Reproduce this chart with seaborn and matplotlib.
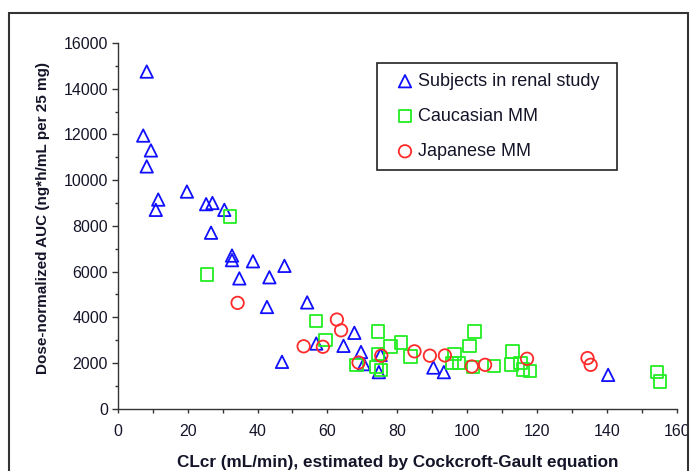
import matplotlib
matplotlib.use("Agg")
import matplotlib.pyplot as plt
from matplotlib.patches import Rectangle
from matplotlib.ticker import MultipleLocator
import seaborn as sns
import pandas as pd

# ---- data ----
renal_x = [8.3, 7.3, 9.5, 8.3, 19.8, 11.6, 10.9, 25.3, 27.1, 30.5, 26.7, 32.7, 32.7,
           38.7, 47.7, 34.8, 43.4, 42.7, 54.2, 47.0, 56.8, 64.6, 67.7, 69.6, 70.4,
           75.2, 74.7, 90.3, 93.3, 140.3]
renal_y = [14750, 11950, 11300, 10600, 9500, 9150, 8700, 8950, 9000, 8700, 7700, 6700, 6500,
           6450, 6250, 5700, 5750, 4450, 4650, 2050, 2850, 2750, 3320, 2480, 1950,
           2350, 1600, 1800, 1600, 1480]

cauc_x = [32.1, 25.5, 56.7, 59.4, 74.4, 78.0, 81.1, 83.8, 74.5, 68.3, 74.0, 75.4, 96.4,
          97.6, 95.7, 100.6, 102.1, 101.7, 107.7, 112.9, 112.6, 115.2, 115.9, 117.9,
          154.2, 155.1]
cauc_y = [8400, 5880, 3825, 3000, 3370, 2730, 2900, 2290, 2400, 1920, 1820, 1700, 2400,
          2000, 2000, 2750, 3370, 1820, 1880, 2500, 1930, 2000, 1720, 1650,
          1600, 1190]

jap_x = [34.3, 53.2, 58.7, 62.7, 63.9, 68.9, 75.4, 84.9, 89.3, 93.6, 101.3, 105.1,
         117.1, 134.4, 135.3]
jap_y = [4630, 2730, 2710, 3900, 3430, 2020, 2320, 2510, 2320, 2330, 1846, 1920,
         2185, 2215, 1920]

group_labels = ["Subjects in renal study", "Caucasian MM", "Japanese MM"]
group_colors = ["#1010ff", "#22ee22", "#ff2a2a"]
group_markers = ["^", "s", "o"]

x_label = "CLcr (mL/min), estimated by Cockcroft-Gault equation"
y_label = "Dose-normalized AUC (ng*h/mL per 25 mg)"

# ---- style ----
sns.set_style("white")
plt.rcParams["font.family"] = ["Liberation Sans", "DejaVu Sans"]
text_color = "#15152a"

fig = plt.figure(figsize=(6.9, 4.71), dpi=100)
ax_h = 408.7 - 43
ax_w = 677 - 117.7
ax = fig.add_axes([117.7 / 690, 1 - 408.7 / 471, ax_w / 690, ax_h / 471])

datasets = [(renal_x, renal_y), (cauc_x, cauc_y), (jap_x, jap_y)]
for (xs, ys), lab, col, mk in zip(datasets, group_labels, group_colors, group_markers):
    df = pd.DataFrame({"x": xs, "y": ys})
    sns.scatterplot(data=df, x="x", y="y", ax=ax, marker=mk, s=80,
                    facecolors="none", edgecolors=col, linewidths=1.3, label=lab)

ax.set_xlim(0, 160)
ax.set_ylim(0, 16000)
ax.xaxis.set_major_locator(MultipleLocator(20))
ax.xaxis.set_minor_locator(MultipleLocator(10))
ax.yaxis.set_major_locator(MultipleLocator(2000))
ax.yaxis.set_minor_locator(MultipleLocator(1000))

for side in ["top", "right"]:
    ax.spines[side].set_visible(False)
for side in ["left", "bottom"]:
    ax.spines[side].set_color("#333333")
    ax.spines[side].set_linewidth(1.0)

ax.tick_params(axis="y", which="major", direction="out", length=4.3, width=1,
               color="#333333", pad=2.7, labelsize=11.5, labelcolor=text_color, left=True)
ax.tick_params(axis="y", which="minor", direction="out", length=2.2, width=1,
               color="#333333", left=True)
ax.tick_params(axis="x", which="major", direction="out", length=3.2, width=1,
               color="#333333", pad=8, labelsize=11.5, labelcolor=text_color, bottom=True)
ax.tick_params(axis="x", which="minor", direction="out", length=3.0, width=1,
               color="#333333", bottom=True)

ax.set_xlabel(x_label, fontsize=12.3, fontweight="bold", color=text_color)
ax.set_ylabel(y_label, fontsize=11, fontweight="bold", color=text_color)
ax.xaxis.set_label_coords(0.5, (408.7 - 455.5) / ax_h)
ax.yaxis.set_label_coords((50 - 117.7) / ax_w, (408.7 - 218) / ax_h)

leg_bottom = (408.7 - 171) / ax_h
leg_height = 108 / ax_h
leg = ax.legend(loc="upper left",
                bbox_to_anchor=((377 - 117.7) / ax_w, leg_bottom, 240 / ax_w, leg_height),
                mode="expand", frameon=True, fancybox=False, framealpha=1,
                edgecolor="#222222", fontsize=13, labelspacing=1.0,
                borderpad=0.55, handlelength=2.0, handletextpad=-0.3,
                borderaxespad=0)
leg.get_frame().set_linewidth(1.2)
for t in leg.get_texts():
    t.set_color(text_color)

fig.add_artist(Rectangle((9 / 690, -0.02), (688 - 9) / 690, (471 - 13) / 471 + 0.02,
                         transform=fig.transFigure, fill=False, lw=1.5,
                         edgecolor="#333333"))

fig.savefig("out.png", dpi=100)
